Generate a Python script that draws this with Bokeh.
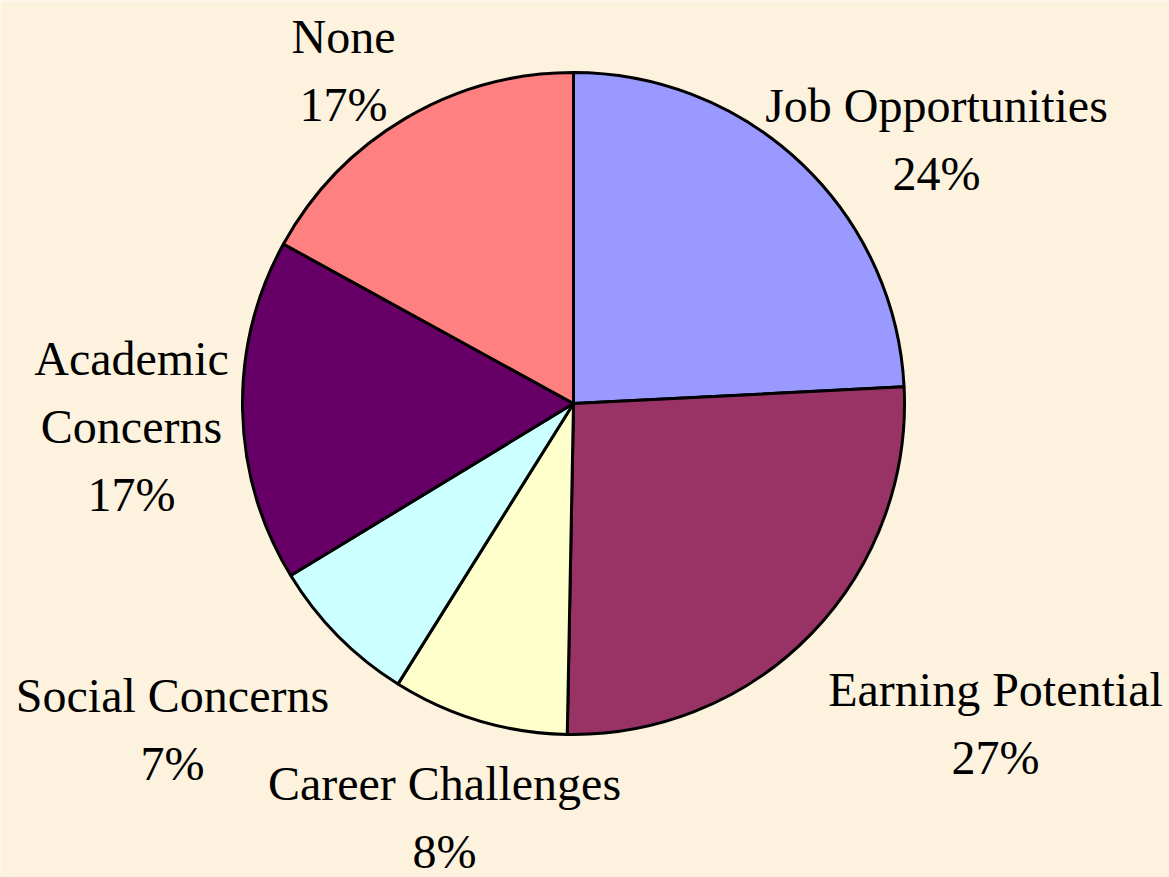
import math
from bokeh.plotting import figure
from bokeh.models import Range1d, ColumnDataSource
from bokeh.core.properties import value
from bokeh.embed import file_html
from bokeh.resources import INLINE

# ---- data ----
categories = ["Job Opportunities", "Earning Potential", "Career Challenges",
              "Social Concerns", "Academic Concerns", "None"]
shares = [24.2, 26.1, 8.6, 7.4, 16.7, 17.0]
pct_labels = ["24%", "27%", "8%", "7%", "17%", "17%"]
colors = ["#9999FF", "#993366", "#FFFFCC", "#CCFFFF", "#660066", "#FF8080"]

# ---- layout ----
W, H = 1169, 877
BG = "#FCF2DD"
cx, cy, R = 573, H - 403, 331
label_names = ["Job Opportunities", "Earning Potential", "Career Challenges",
               "Social Concerns", "Academic\nConcerns", "None"]
# label block centres (page pixels)
label_px = [(936, 139), (995, 723), (444, 817), (172, 729), (131, 426), (343, 70)]

total = sum(shares)
starts, ends = [], []
cum = 0.0
for s in shares:
    a0 = 2 * math.pi * cum / total
    cum += s
    a1 = 2 * math.pi * cum / total
    starts.append(math.pi / 2 - a1)
    ends.append(math.pi / 2 - a0)

src = ColumnDataSource(dict(cat=categories, start=starts, end=ends, color=colors))

p = figure(width=W, height=H, output_backend="svg", toolbar_location=None,
           x_range=Range1d(0, W), y_range=Range1d(0, H), min_border=0)
p.axis.visible = False
p.grid.visible = False
p.outline_line_color = None
p.background_fill_color = BG
p.border_fill_color = BG

p.wedge(x=cx, y=cy, radius=R, start_angle="start", end_angle="end",
        fill_color="color", line_color="black", line_width=3, source=src)

lsrc = ColumnDataSource(dict(
    x=[px for px, py in label_px],
    y=[H - py for px, py in label_px],
    t=[n + "\n" + pc for n, pc in zip(label_names, pct_labels)]))
p.text(x="x", y="y", text="t", source=lsrc, text_align="center",
       text_baseline="middle", text_font=value("Liberation Serif"),
       text_font_size="48px", text_color="black", text_line_height=1.29)

html = file_html(p, INLINE)
html = html.replace("<body>", '<body style="background:%s;margin:0">' % BG, 1)
open("out.html", "w").write(html)
